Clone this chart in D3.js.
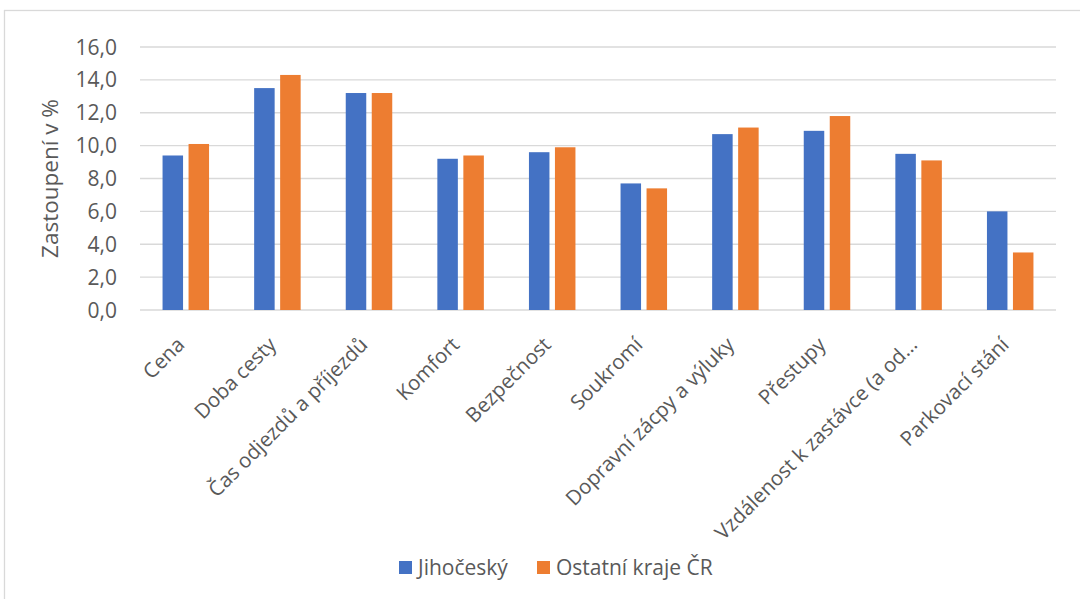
<!DOCTYPE html>
<html>
<head>
<meta charset="utf-8">
<script src="https://cdn.jsdelivr.net/npm/d3@7"></script>
<style>
  body { margin: 0; background: #fff; }
  svg text { font-family: "Open Sans", sans-serif; fill: #595959; }
</style>
</head>
<body>
<div id="chart"></div>
<script>
// data
const categories = ["Cena", "Doba cesty", "Čas odjezdů a příjezdů", "Komfort", "Bezpečnost",
    "Soukromí", "Dopravní zácpy a výluky", "Přestupy", "Vzdálenost k zastávce (a od…", "Parkovací stání"];
const jihocesky = [9.4, 13.5, 13.2, 9.2, 9.6, 7.7, 10.7, 10.9, 9.5, 6.0];
const ostatni = [10.1, 14.3, 13.2, 9.4, 9.9, 7.4, 11.1, 11.8, 9.1, 3.5];
const seriesNames = ["Jihočeský", "Ostatní kraje ČR"];
const yTicks = [0, 2, 4, 6, 8, 10, 12, 14, 16];

const width = 1080, height = 599;
const margin = {top: 47, right: 24, bottom: 289, left: 140};
const w = width - margin.left - margin.right;
const h = height - margin.top - margin.bottom;
const colors = ["#4472C4", "#ED7D31"];

const svg = d3.select("#chart").append("svg")
    .attr("width", width)
    .attr("height", height);

// chart area border
svg.append("rect")
    .attr("x", 4.5).attr("y", 10.5)
    .attr("width", width + 10).attr("height", height + 10)
    .attr("fill", "none")
    .attr("stroke", "#d9d9d9")
    .attr("stroke-width", 1.3);

const g = svg.append("g")
    .attr("transform", "translate(" + margin.left + "," + margin.top + ")");

const x = d3.scaleBand().domain(categories).range([0, w]);
const y = d3.scaleLinear().domain([0, 16]).range([h, 0]);

// gridlines
g.append("g")
    .selectAll("line")
    .data(yTicks)
    .join("line")
    .attr("x1", 0).attr("x2", w)
    .attr("y1", d => y(d)).attr("y2", d => y(d))
    .attr("stroke", "#d9d9d9")
    .attr("stroke-width", 1.3);

// y tick labels
const fmt = d => d.toFixed(1).replace(".", ",");
g.append("g")
    .selectAll("text")
    .data(yTicks)
    .join("text")
    .attr("x", -23)
    .attr("y", d => y(d))
    .attr("dy", "0.36em")
    .attr("text-anchor", "end")
    .style("font-size", "21px")
    .text(fmt);

// bars
const barW = 20.5, gap = 5.5;
const rows = categories.map((c, i) => ({cat: c, vals: [jihocesky[i], ostatni[i]]}));
const grp = g.selectAll(".cat")
    .data(rows)
    .join("g")
    .attr("transform", d => "translate(" + (x(d.cat) + x.bandwidth() / 2) + ",0)");

grp.selectAll("rect")
    .data(d => d.vals)
    .join("rect")
    .attr("x", (d, i) => i === 0 ? -barW - gap / 2 : gap / 2)
    .attr("width", barW)
    .attr("y", d => y(d))
    .attr("height", d => h - y(d))
    .attr("fill", (d, i) => colors[i]);

// category labels, rotated
g.append("g")
    .selectAll("text")
    .data(categories)
    .join("text")
    .attr("text-anchor", "end")
    .attr("transform", d => "translate(" + (x(d) + x.bandwidth() / 2) + "," + (h + 36) + ") rotate(-45)")
    .style("font-size", "20.5px")
    .text(d => d);

// y axis title
svg.append("text")
    .attr("transform", "translate(58," + (margin.top + h / 2) + ") rotate(-90)")
    .attr("text-anchor", "middle")
    .style("font-size", "22.5px")
    .text("Zastoupení v %");

// legend
const legend = svg.append("g");
const legX = [399, 537];
seriesNames.forEach((s, i) => {
    legend.append("rect")
        .attr("x", legX[i]).attr("y", 561)
        .attr("width", 13).attr("height", 13)
        .attr("fill", colors[i]);
    legend.append("text")
        .attr("x", legX[i] + 19).attr("y", 567.5)
        .attr("dy", "0.36em")
        .style("font-size", "21px")
        .text(s);
});
</script>
</body>
</html>
